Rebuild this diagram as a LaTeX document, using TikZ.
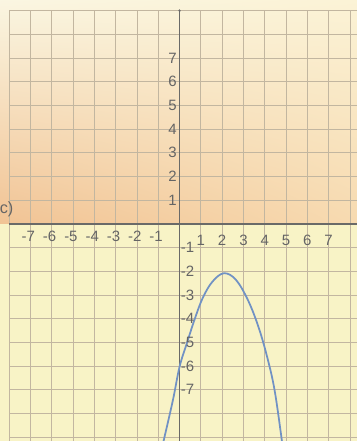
\documentclass[tikz,border=0pt]{standalone}
\usepackage{fontspec}
\setmainfont{Liberation Sans}
\usetikzlibrary{shadings}
\definecolor{lowbg}{HTML}{F8F3C6}
\definecolor{ulc}{HTML}{FAF6E2}
\definecolor{urc}{HTML}{FBF3D6}
\definecolor{llc}{HTML}{F1C394}
\definecolor{lrc}{HTML}{F7DAB0}
\definecolor{gridc}{HTML}{C2B6A0}
\definecolor{axisc}{HTML}{6A6A68}
\definecolor{labc}{HTML}{656565}
\definecolor{curvec}{HTML}{7192C4}
\tikzset{
  gridline/.style={draw=gridc,line width=0.6pt},
  xaxisline/.style={draw=axisc,line width=1.8pt},
  yaxisline/.style={draw=axisc,line width=1.1pt},
  lab/.style={text=labc,inner sep=0pt,font=\fontsize{12}{14}\selectfont},
  curveline/.style={draw=curvec,line width=1.4pt,line join=round}
}
\begin{document}
\begin{tikzpicture}[x=0.6cm,y=0.6676cm]
\useasboundingbox (-8.43,-9.16) rectangle (8.33,9.45);
\begin{scope}
\clip (-8.43,-9.16) rectangle (8.33,9.45);
% backgrounds
\fill[lowbg] (-8.43,-9.3) rectangle (8.4,0);
\shade[upper left=ulc,upper right=urc,lower left=llc,lower right=lrc] (-8.43,0) rectangle (8.4,9.5);
% grid
\draw[gridline,step=1] (-8,-9.3) grid (8.4,9);
% axes
\coordinate (xl) at (-8,0);
\coordinate (xr) at (8.4,0);
\coordinate (yt) at (0,9);
\coordinate (yb) at (0,-9.3);
\draw[xaxisline] (xl) -- (xr);
\draw[yaxisline] (yt) -- (yb);
\fill[axisc] (yt) circle (0.06);
% curve
\draw[curveline] plot[smooth,tension=0.6] coordinates {
 (-0.82,-9.4) (-0.75,-9.16) (-0.31,-7.43) (0,-6.03) (0.35,-5.02) (0.70,-4.05)
 (1.09,-3.12) (1.55,-2.43) (2.09,-2.08) (2.65,-2.36) (3.21,-3.21)
 (3.70,-4.33) (4.11,-5.60) (4.46,-7.0) (4.80,-9.11) (4.83,-9.4)};
% labels
\foreach \k in {1,...,7} {
  \node[lab,anchor=east] (py\k) at (-0.12,\k) {\k};
  \node[lab] (px\k) at (\k,-0.68) {\k};
  \node[lab] (nx\k) at (-\k-0.1,-0.52) {-\k};
  \node[lab,anchor=west] (ny\k) at (0.05,-\k) {-\k};
}
\node[lab,font=\fontsize{13}{15}\selectfont] (c) at (-8.12,0.62) {c)};
\end{scope}
\end{tikzpicture}
\end{document}
